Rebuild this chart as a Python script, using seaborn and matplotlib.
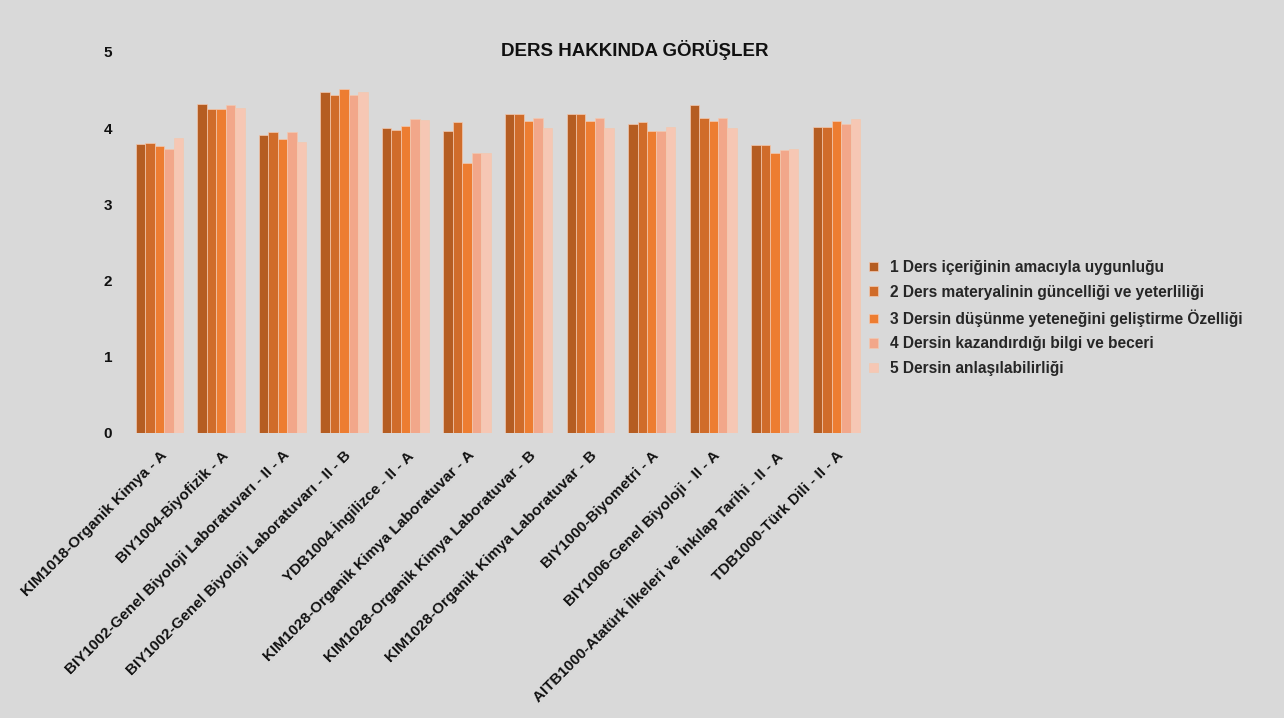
import matplotlib
matplotlib.use("Agg")
import matplotlib.pyplot as plt
import seaborn as sns
import pandas as pd

courses = [
    "KIM1018-Organik Kimya - A",
    "BIY1004-Biyofizik - A",
    "BIY1002-Genel Biyoloji Laboratuvarı - II - A",
    "BIY1002-Genel Biyoloji Laboratuvarı - II - B",
    "YDB1004-İngilizce - II - A",
    "KIM1028-Organik Kimya Laboratuvar - A",
    "KIM1028-Organik Kimya Laboratuvar - B",
    "KIM1028-Organik Kimya Laboratuvar - B",
    "BIY1000-Biyometri - A",
    "BIY1006-Genel Biyoloji - II - A",
    "AITB1000-Atatürk İlkeleri ve İnkılap Tarihi - II - A",
    "TDB1000-Türk Dili - II - A",
]
series_names = [
    "1 Ders içeriğinin amacıyla uygunluğu",
    "2 Ders materyalinin güncelliği ve yeterliliği",
    "3 Dersin düşünme yeteneğini geliştirme Özelliği",
    "4 Dersin kazandırdığı bilgi ve beceri",
    "5 Dersin anlaşılabilirliği",
]
s1 = [3.79, 4.32, 3.91, 4.48, 4.00, 3.96, 4.18, 4.18, 4.05, 4.31, 3.78, 4.02]
s2 = [3.81, 4.25, 3.95, 4.43, 3.97, 4.08, 4.18, 4.18, 4.08, 4.13, 3.78, 4.02]
s3 = [3.77, 4.25, 3.86, 4.52, 4.03, 3.54, 4.09, 4.09, 3.96, 4.09, 3.68, 4.10]
s4 = [3.73, 4.30, 3.95, 4.43, 4.12, 3.67, 4.14, 4.14, 3.96, 4.13, 3.71, 4.06]
s5 = [3.87, 4.27, 3.82, 4.48, 4.11, 3.67, 4.00, 4.00, 4.02, 4.00, 3.73, 4.12]
colors = ["#B55D22", "#D06C2A", "#ED7D31", "#F2A78A", "#F6C7B4"]

rows = []
for name, vals in zip(series_names, [s1, s2, s3, s4, s5]):
    for i, v in enumerate(vals):
        rows.append({"idx": i, "series": name, "value": v})
df = pd.DataFrame(rows)

sns.set_theme(style="white")
plt.rcParams["font.family"] = ["Liberation Sans", "DejaVu Sans"]
plt.rcParams["font.weight"] = "bold"

fig = plt.figure(figsize=(12.84, 7.18), dpi=100, facecolor="#D9D9D9")
ax = fig.add_axes([0.1003, 0.397, 0.575, 0.5306])
ax.set_facecolor("#D9D9D9")

sns.barplot(data=df, x="idx", y="value", hue="series", hue_order=series_names,
            palette=colors, width=0.77, ax=ax, edgecolor="#F3C9B0",
            linewidth=0.5, saturation=1, errorbar=None)

ax.set_ylim(0, 5)
ax.set_yticks([0, 1, 2, 3, 4, 5])
ax.set_yticklabels(["0", "1", "2", "3", "4", "5"], fontsize=11, fontweight="bold", color="#111111")
ax.set_xticks(range(len(courses)))
ax.set_xticklabels(courses, rotation=45, ha="right", rotation_mode="anchor",
                   fontsize=11, fontweight="bold", color="#111111")
ax.tick_params(axis="both", length=0)
ax.tick_params(axis="y", pad=12)
ax.tick_params(axis="x", pad=11)
ax.set_xlabel("")
ax.set_ylabel("")
for sp in ax.spines.values():
    sp.set_visible(False)
ax.grid(False)

fig.text(0.494, 0.93, "DERS HAKKINDA GÖRÜŞLER", ha="center", va="center",
         fontsize=13.5, fontweight="bold", color="#111111")

handles, labels = ax.get_legend_handles_labels()
ax.legend(handles, labels, loc="center left", bbox_to_anchor=(0.666, 0.557),
          bbox_transform=fig.transFigure, frameon=False, handlelength=0.55,
          handleheight=0.55, handletextpad=0.8, labelspacing=0.62,
          prop={"weight": "bold", "size": 11.2})

fig.savefig("out.png", dpi=100, facecolor=fig.get_facecolor())
